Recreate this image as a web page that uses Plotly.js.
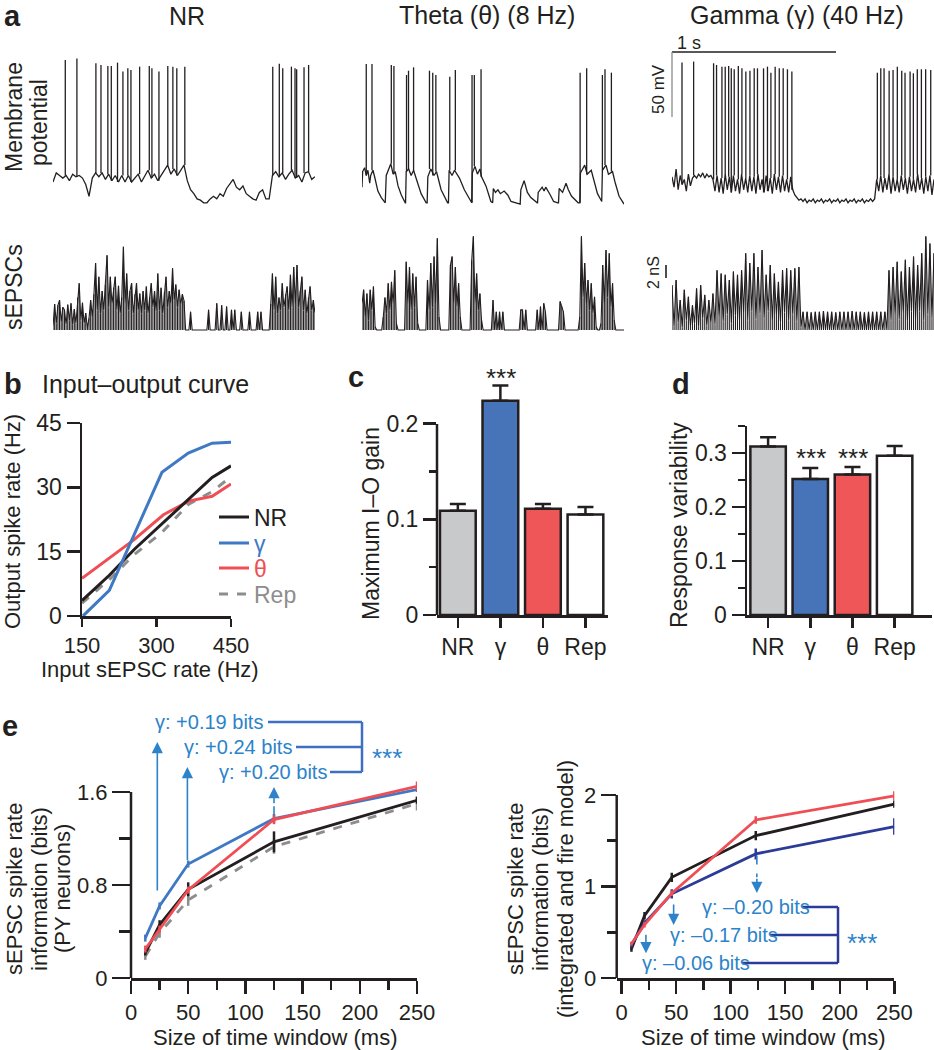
<!DOCTYPE html>
<html>
<head>
<meta charset="utf-8">
<script src="https://cdn.plot.ly/plotly-3.0.1.min.js"></script>
<style>
  html, body { margin: 0; padding: 0; background: #fff; }
  #fig { width: 934px; height: 1050px; }
</style>
</head>
<body>
<div id="fig"></div>
<script>
/* ---------- data ---------- */

// panel a: membrane potential (mV) and sEPSC conductance (nS), time in ms
const nrDt = 20;
const nrV = [-60,-53,-55,-57,-55,-59,-54,-56,-55,-57,
  -62,-71,-57,-53,-56,-53,-58,-54,-59,-55,
  -60,-55,-60,-55,-60,-57,-54,-60,-56,-51,
  -57,-54,-59,-55,-52,-47,-54,-50,-55,-51,
  -47,-59,-66,-69,-73,-74,-76,-76,-73,-71,
  -73,-69,-71,-65,-61,-58,-64,-66,-63,-69,
  -71,-73,-74,-68,-66,-73,-73,-55,-52,-56,
  -53,-58,-54,-51,-57,-55,-60,-53,-52,-58,
  -56];
const nrSpikeT = [75,146,262,293,335,356,394,427,457,476,529,588,604,647,701,732,756,805,
  1342,1382,1403,1456,1478,1488,1533,1561];
const nrSpikeV = [33.8,35,31.3,30,29.2,29.2,31.8,24.9,27.4,26.2,28.7,29.2,27.4,24.9,29.2,28.7,27.4,28.7,
  28.7,31,27.4,28.7,27.4,26.7,28.2,30];

const thetaT = [0,4,16,26,36,47,53,67,77,87,97,118,138,
  142,148,176,190,203,220,240,264,
  266,270,285,300,315,325,341,361,392,
  398,402,420,440,455,463,483,523,
  528,532,550,565,585,595,625,666,
  670,674,690,705,720,730,757,787,
  798,802,815,830,845,868,890,910,960,
  966,970,990,1010,1031,1070,
  1072,1076,1100,1112,1122,1150,1170,1195,
  1200,1204,1225,1246,1260,1280,1320,
  1330,1334,1360,1375,1400,1420,1438,1460,
  1464,1468,1490,1505,1530,1545,1570,1600];
const thetaV = [-64,-52,-49,-55,-51,-61,-55,-51,-56,-61,-67,-72,-76,
  -76,-55,-46,-54,-52,-63,-70,-76,
  -76,-52,-50,-55,-51,-55,-61,-69,-76,
  -76,-56,-50,-55,-52,-56,-66,-76,
  -76,-51,-55,-51,-55,-57,-66,-76,
  -76,-53,-48,-54,-50,-56,-63,-75,
  -76,-65,-68,-66,-69,-67,-70,-75,-77,
  -77,-66,-59,-68,-72,-76,
  -76,-68,-64,-67,-64,-70,-75,-76,
  -76,-65,-68,-61,-66,-71,-76,
  -76,-53,-47,-54,-51,-61,-69,-74,
  -75,-51,-47,-54,-52,-60,-71,-77];
const thetaSpikeT = [26,61,179,195,272,284,315,412,432,451,536,570,672,686,727,1332,1372,1468,1484,1523];
const thetaSpikeV = [30.8,30.8,30,29.2,22.3,25.6,28.2,25.6,24.1,22.3,21,26.2,22.3,22.3,26.7,24.1,27.4,22.3,26.7,24.1];

const gamDt = 12.5;
const gamV = [-56,-64,-50,-66,-55,-62,-58,-67,-54,-63,-57,
  -55,-57,-54,-56,-53,-57,-54,-56,-55,
  -58,-67,-55,-68,-57,-69,-54,-66,-56,-68,
  -55,-67,-58,-69,-54,-66,-57,-68,-55,-67,
  -56,-69,-54,-66,-58,-68,-55,-67,-57,-69,
  -54,-66,-56,-68,-55,-67,-58,-68,-56,-66,
  -70,-72,-74,-73,-75,-73,-76,-74,-75,-73,
  -76,-74,-75,-73,-76,-74,-75,-73,-76,-74,
  -75,-73,-76,-74,-75,-73,-76,-74,-75,-73,
  -76,-74,-75,-73,-76,-74,-75,-73,-75,-73,
  -58,-67,-55,-68,-57,-66,-54,-69,-56,-67,
  -58,-68,-55,-66,-57,-69,-56,-67,-58,-68,
  -54,-66,-57,-69,-56,-67,-55,-70,-58];
const gamSpikeT = [61,132,254,272,305,325,346,362,380,405,427,451,476,502,522,559,583,604,630,655,679,705,732,
  1254,1275,1295,1326,1350,1376,1403,1423,1454,1474,1498,1523,1549,1580];
const gamSpikeV = [31.8,32.6,31.3,30,28.7,28.7,29.2,27.4,26.7,29.2,27.4,24.9,25.6,27.4,27.4,27.4,28.7,24.1,28.7,27.4,27.4,26.7,24.9,
  24.1,27.4,27.4,25.6,26.2,28.7,25.6,24.1,24.9,23.6,26.7,26.7,26.7,26.2];

const sDt = 10;
const nrS = [0.5,4.0,1.0,3.8,4.6,1.2,3.5,3.1,0.8,3.9,
  1.5,4.1,0.8,3.2,1.0,5.0,7.2,1.5,4.2,1.0,
  2.6,0.3,1.8,4.6,2.0,5.5,10.3,3.0,8.2,2.5,
  6.0,3.0,7.0,11.5,3.5,8.2,4.0,6.5,8.2,3.0,
  6.8,2.5,5.0,12.8,4.0,8.7,3.0,6.0,7.2,2.5,
  5.5,7.2,3.0,5.6,2.5,6.0,3.0,6.7,2.5,5.0,
  7.2,3.5,6.0,2.8,8.7,3.0,6.5,2.5,5.8,8.2,
  3.5,6.0,4.0,9.5,4.5,7.0,3.5,6.2,4.0,5.5,
  4.5,0,0,0,2.8,0,0,0,0,0,
  0,0,0,0,0,3.1,0,0,0,0,
  4.1,0,0,3.8,0,0,3.6,0,0,3.1,
  0,3.1,0,0,0,2.8,0,0,0,0,
  2.8,0,0,0,0,2.8,0,2.8,0,0,
  0,0,0,4.0,8.7,3.0,8.2,2.5,5.0,3.0,
  7.2,3.5,5.5,6.7,3.0,8.5,3.5,9.7,4.0,10.0,
  3.5,6.0,8.2,3.0,6.2,2.5,5.0,6.7,3.0,4.6,
  2.5];
const thetaS = [4.0,6.2,2.0,5.6,1.5,6.2,3.0,6.7,0.5,0,
  0,0,0,2.0,5.0,2.5,7.2,3.0,7.4,4.0,
  9.2,1.0,0,0,0,0,0,10.5,4.0,9.7,
  3.0,8.7,3.5,8.2,1.0,0,0,0,0,0,
  7.7,3.0,10.3,3.5,11.3,4.0,14.1,2.0,0,0,
  0,0,0,0,10.0,11.3,4.0,9.7,3.5,7.2,
  2.0,0,0,0,0,0,0,10.7,14.4,4.0,
  8.7,3.0,5.6,1.5,0,0,0,0,0,0,
  4.6,0,2.8,0,2.8,0,2.8,0,0,0,
  0,0,0,0,0,0,0,3.1,3.1,0,
  3.1,0,0,0,0,0,0,3.1,0,3.6,
  0,4.1,2.8,0,0,0,0,0,0,0,
  0,4.4,3.6,2.8,0,0,0,0,0,0,
  0,0,0,2.0,14.4,5.0,10.3,4.0,7.7,3.0,
  7.2,2.5,5.1,0.5,0,0,1.0,10.0,4.0,12.3,
  5.0,11.8,3.5,7.2,1.5,0,0,0,0,0,
  0];
const gamS = [6.9,0.5,7.7,1.2,4.6,0.4,6.2,1.5,5.1,0.6,
  3.8,1.0,6.4,0.5,6.9,1.8,5.4,0.7,4.6,1.1,
  5.6,0.9,9.2,2.0,8.7,1.3,8.5,2.4,7.7,1.0,
  9.0,2.2,8.5,1.4,9.2,2.6,11.8,1.5,10.3,2.8,
  11.8,1.6,9.7,2.5,12.3,1.8,8.5,2.9,10.0,1.4,
  8.7,2.3,7.4,1.2,9.2,2.7,9.5,1.5,9.2,2.4,
  9.5,1.3,9.7,0.4,
  2.8,0,2.8,0,2.7,0,2.8,0,2.8,0,
  2.9,0,2.8,0,2.8,0,2.7,0,2.8,0,
  2.8,0,2.8,0,2.9,0,2.8,0,2.8,0,
  2.7,0,2.8,0,2.8,0,2.8,0,2.8,0,
  2.8,0,
  9.2,1.5,9.7,2.3,10.5,1.6,9.0,2.6,10.8,1.4,
  9.7,2.8,11.3,1.7,10.0,2.9,11.8,1.5,14.4,2.4,
  13.3,1.8,11.8];

// panel b: input-output curves
const ioNR = {x: [150,205,255,311,364,412,450], y: [3.6,9.5,15.5,21.5,27,32.3,35]};
const ioGamma = {x: [152,205,311,364,412,450], y: [0,6,33.5,38,40.3,40.5]};
const ioTheta = {x: [150,255,314,365,412,450], y: [8.8,17.8,23.6,26.8,27.9,30.8]};
const ioRep = {x: [150,205,255,311,364,412,450], y: [3.0,8.5,14.3,19.5,26,29,32.5]};

// panels c, d: bars
const conds = ['NR', 'γ', 'θ', 'Rep'];
const gainVals = [0.109, 0.224, 0.111, 0.105];
const gainErr = [0.007, 0.016, 0.005, 0.008];
const varVals = [0.312, 0.252, 0.260, 0.295];
const varErr = [0.017, 0.020, 0.014, 0.018];

// panel e: information vs time window
const winPY = [12.5, 25, 50, 125, 250];
const pyGamma = [0.343, 0.62, 0.98, 1.371, 1.62], pyGammaErr = [0.03,0.03,0.03,0.04,0.02];
const pyTheta = [0.249, 0.42, 0.757, 1.363, 1.649], pyThetaErr = [0.03,0.03,0.03,0.04,0.04];
const pyNR = [0.214, 0.457, 0.763, 1.171, 1.529], pyNRErr = [0.02,0.04,0.06,0.09,0.03];
const pyRep = [0.186, 0.386, 0.671, 1.129, 1.50], pyRepErr = [0.03,0.04,0.05,0.06,0.06];

const winIF = [9, 21, 46, 123, 250];
const ifNR = [0.316, 0.68, 1.10, 1.556, 1.90], ifNRErr = [0.03,0.04,0.05,0.05,0.04];
const ifTheta = [0.375, 0.582, 0.927, 1.727, 1.99], ifThetaErr = [0.02,0.03,0.03,0.04,0.05];
const ifGamma = [0.364, 0.60, 0.92, 1.356, 1.655], ifGammaErr = [0.03,0.03,0.05,0.06,0.09];

/* ---------- helpers ---------- */
const W = 934, H = 1050;
const FONT = 'Liberation Sans, Arial, Helvetica, sans-serif';
const INK = '#231f20';
const BLUE = '#3f79c4', RED = '#ef4e55', GRAY = '#8d8d8d', NAVY = '#2c3b97', TXTBLUE = '#2c83c9';
const px = v => v / W;
const py = v => 1 - v / H;
const domX = (a, b) => [px(a), px(b)];
const domY = (top, bottom) => [py(bottom), py(top)];

const steps = (vals, dt) => vals.map((_, i) => i * dt);

// spikes: vertical strokes from the nearest baseline sample up to the peak
function spikeSegs(tb, vb, st, sv) {
  const x = [], y = [];
  st.forEach((t, k) => {
    let j = 0;
    for (let i = 1; i < tb.length; i++) if (Math.abs(tb[i] - t) < Math.abs(tb[j] - t)) j = i;
    x.push(t, t, null);
    y.push(vb[j], sv[k], null);
  });
  return {x, y};
}

// sEPSC events drawn as stems from zero (under the jagged envelope)
function stems(vals, dt) {
  const x = [], y = [];
  vals.forEach((v, i) => { if (v > 0) { x.push(i * dt, i * dt, null); y.push(0, v, null); } });
  return {x, y};
}

function trace(x, y, ax, w) {
  return {x, y, type: 'scatter', mode: 'lines', line: {color: INK, width: w || 1.3},
    xaxis: 'x' + ax, yaxis: 'y' + ax, showlegend: false, hoverinfo: 'skip'};
}

function txt(text, x, y, size, o) {
  return Object.assign({text, x: px(x), y: py(y), xref: 'paper', yref: 'paper', showarrow: false,
    xanchor: 'center', yanchor: 'middle', font: {size, color: INK, family: FONT}}, o || {});
}
const blueTxt = (t, x, y) => txt(t, x, y, 20, {xanchor: 'left', font: {size: 20, color: TXTBLUE, family: FONT}});

function hline(x0, x1, y, color, w) {
  return {type: 'line', xref: 'paper', yref: 'paper', x0: px(x0), x1: px(x1), y0: py(y), y1: py(y),
    line: {color, width: w || 2.5}};
}
function vline(x, y0, y1, color, w) {
  return {type: 'line', xref: 'paper', yref: 'paper', x0: px(x), x1: px(x), y0: py(y0), y1: py(y1),
    line: {color, width: w || 2.5}};
}

const hidden = o => Object.assign({visible: false, fixedrange: true}, o);
function axis(o) {
  return Object.assign({showgrid: false, zeroline: false, ticks: 'outside', tickwidth: 2.5, tickcolor: INK,
    ticklen: 13, showline: true, linewidth: 2.5, linecolor: INK, fixedrange: true,
    tickfont: {size: 23, color: INK, family: FONT}}, o);
}

/* ---------- traces ---------- */
const data = [];
// panel a
const nrT = steps(nrV, nrDt);
data.push(trace(nrT, nrV, ''));
const nrSp = spikeSegs(nrT, nrV, nrSpikeT, nrSpikeV);
data.push(trace(nrSp.x, nrSp.y, ''));
data.push(trace(thetaT, thetaV, 2));
const thSp = spikeSegs(thetaT, thetaV, thetaSpikeT, thetaSpikeV);
data.push(trace(thSp.x, thSp.y, 2));
const gamT = steps(gamV, gamDt);
data.push(trace(gamT, gamV, 3));
const gaSp = spikeSegs(gamT, gamV, gamSpikeT, gamSpikeV);
data.push(trace(gaSp.x, gaSp.y, 3));
[[nrS, sDt, 4], [thetaS, sDt, 5], [gamS, gamDt, 6]].forEach(([vals, dt, ax]) => {
  const s = stems(vals, dt);
  data.push(trace(s.x, s.y, ax, 1.1));
  data.push(trace(steps(vals, dt), vals, ax, 1.1));
});

// panel b (one small legend per entry so the rows sit where the reference has them)
const ioLine = (d, name, color, legend, rank, dash) => ({x: d.x, y: d.y, type: 'scatter', mode: 'lines', name,
  line: {color, width: 3, dash: dash || 'solid'}, xaxis: 'x7', yaxis: 'y7', cliponaxis: false,
  legend, legendrank: rank, hoverinfo: 'skip'});
data.push(ioLine(ioRep, '<span style="color:' + GRAY + '">Rep</span>', GRAY, 'legend4', 4, 'dash'));
data.push(ioLine(ioTheta, '<span style="color:' + RED + '">θ</span>', RED, 'legend3', 3));
data.push(ioLine(ioNR, 'NR', INK, 'legend', 1));
data.push(ioLine(ioGamma, '<span style="color:' + BLUE + '">γ</span>', BLUE, 'legend2', 2));

// panels c, d
const barColors = ['#c8c9cb', '#4774b9', '#ef5658', '#ffffff'];
const bar = (vals, errs, ax) => ({type: 'bar', x: [0, 1, 2, 3], y: vals, width: 0.84,
  marker: {color: barColors, line: {color: INK, width: 2.5}},
  error_y: {type: 'data', symmetric: false, array: errs, arrayminus: [0, 0, 0, 0], color: INK, thickness: 2.5, width: 8},
  xaxis: 'x' + ax, yaxis: 'y' + ax, showlegend: false, hoverinfo: 'skip'});
data.push(bar(gainVals, gainErr, 8));
data.push(bar(varVals, varErr, 9));

// panel e
const infoLine = (x, y, e, color, ax, dash) => ({x, y, type: 'scatter', mode: 'lines',
  line: {color, width: 2.8, dash: dash || 'solid'},
  error_y: {type: 'data', array: e, color, thickness: 2.5, width: 0},
  xaxis: 'x' + ax, yaxis: 'y' + ax, showlegend: false, hoverinfo: 'skip'});
data.push(infoLine(winPY, pyRep, pyRepErr, GRAY, 10, 'dash'));
data.push(infoLine(winPY, pyNR, pyNRErr, INK, 10));
data.push(infoLine(winPY, pyGamma, pyGammaErr, BLUE, 10));
data.push(infoLine(winPY, pyTheta, pyThetaErr, RED, 10));
data.push(infoLine(winIF, ifNR, ifNRErr, INK, 11));
data.push(infoLine(winIF, ifGamma, ifGammaErr, NAVY, 11));
data.push(infoLine(winIF, ifTheta, ifThetaErr, RED, 11));

/* ---------- annotations ---------- */
const bold = (t, x, y) => txt('<b>' + t + '</b>', x, y, 29, {xanchor: 'left'});
const rot = (t, x, y, s) => txt(t, x, y, s || 22, {textangle: -90});
const arrow = (ax, x, y0, y1, color) => ({xref: 'x' + ax, yref: 'y' + ax, axref: 'x' + ax, ayref: 'y' + ax,
  x, y: y1, ax: x, ay: y0, text: '', showarrow: true, arrowhead: 2, arrowsize: 1.4, arrowwidth: 1.6,
  arrowcolor: color, standoff: 0});

const annotations = [
  bold('a', 2, 16), bold('b', 2, 384), bold('c', 346, 377), bold('d', 670, 384), bold('e', 0, 726),
  txt('NR', 187, 16, 25), txt('Theta (θ) (8 Hz)', 487, 15, 25), txt('Gamma (γ) (40 Hz)', 797, 15, 25),
  rot('Membrane', 14, 117, 23), rot('potential', 39, 123, 23), rot('sEPSCs', 14, 287, 23),
  txt('1 s', 675, 43, 18, {xanchor: 'left'}), rot('50 mV', 658, 89, 17), rot('2 nS', 653, 273, 16),
  txt('Input–output curve', 40, 384, 25, {xanchor: 'left'}),
  rot('Output spike rate (Hz)', 12, 522), txt('Input sEPSC rate (Hz)', 150, 669, 22),
  rot('Maximum I–O gain', 371, 524, 23), rot('Response variability', 679, 525, 23),
  txt('***', 501, 378, 26), txt('***', 811, 458, 26), txt('***', 853, 458, 26),
  rot('sEPSC spike rate', 14, 889), rot('information (bits)', 39, 889), rot('(PY neurons)', 62, 889),
  txt('Size of time window (ms)', 275, 1037, 22),
  rot('sEPSC spike rate', 515, 889), rot('information (bits)', 540, 889), rot('(integrated and fire model)', 565, 889),
  txt('Size of time window (ms)', 763, 1037, 22),
  blueTxt('γ: +0.19 bits', 153, 722), blueTxt('γ: +0.24 bits', 182, 747), blueTxt('γ: +0.20 bits', 217, 772),
  txt('***', 387, 758, 26, {font: {size: 26, color: TXTBLUE, family: FONT}}),
  blueTxt('γ: –0.20 bits', 700, 907), blueTxt('γ: –0.17 bits', 668, 935), blueTxt('γ: –0.06 bits', 640, 963),
  txt('***', 862, 943, 26, {font: {size: 26, color: TXTBLUE, family: FONT}}),
  arrow(10, 23, 0.74, 2.03, TXTBLUE), arrow(10, 49.3, 1.0, 1.815, TXTBLUE), arrow(10, 125, 1.49, 1.643, TXTBLUE),
  arrow(11, 22.3, 0.49, 0.27, TXTBLUE), arrow(11, 47.7, 0.82, 0.58, TXTBLUE), arrow(11, 124, 1.10, 0.93, TXTBLUE)
];

/* ---------- shapes ---------- */
const shapes = [
  // scale bars
  hline(672, 836, 52, INK, 1.3), vline(672, 52, 117, '#8a8a8a', 1.3), vline(666, 265, 278, INK, 1.6),
  // axis lines that stop at the top tick
  vline(437, 615, 424, INK), vline(131, 978, 792, INK), vline(616.7, 978, 795, INK),
  // brackets, panel e
  hline(268, 362, 722, '#3f6fc0'), hline(296, 362, 747, '#3f6fc0'), hline(330, 362, 772, '#3f6fc0'),
  vline(362, 722, 772, '#3f6fc0'),
  hline(802, 838, 907, NAVY), hline(770, 838, 935, NAVY), hline(742, 838, 963, NAVY), vline(838, 907, 963, NAVY),
  {type: 'line', xref: 'x10', yref: 'y10', x0: 125, x1: 125, y0: 1.40, y1: 1.49, line: {color: TXTBLUE, width: 1.6, dash: 'dash'}},
  {type: 'line', xref: 'x11', yref: 'y11', x0: 124, x1: 124, y0: 1.34, y1: 1.10, line: {color: TXTBLUE, width: 1.6, dash: 'dash'}}
];

/* ---------- layout ---------- */
const memY = {domain: domY(40, 215), range: [-85.4, 49.2]};
const sY = {domain: domY(225, 332), range: [-0.31, 16.15]};
const leg = y => ({x: px(214), y: py(y), xanchor: 'left', yanchor: 'middle', bgcolor: 'rgba(0,0,0,0)',
  borderwidth: 0, font: {size: 23, color: INK, family: FONT}, itemwidth: 30});
const layout = {
  width: W, height: H, margin: {l: 0, r: 0, t: 0, b: 0},
  paper_bgcolor: '#fff', plot_bgcolor: 'rgba(0,0,0,0)',
  font: {family: FONT, color: INK, size: 22},
  showlegend: true,
  legend: leg(517), legend2: leg(543), legend3: leg(568), legend4: leg(594),
  xaxis: hidden({domain: domX(53, 315), range: [0, 1600], anchor: 'y'}),
  yaxis: hidden(Object.assign({anchor: 'x'}, memY)),
  xaxis2: hidden({domain: domX(362, 624), range: [0, 1600], anchor: 'y2'}),
  yaxis2: hidden(Object.assign({anchor: 'x2'}, memY)),
  xaxis3: hidden({domain: domX(672, 934), range: [0, 1600], anchor: 'y3'}),
  yaxis3: hidden(Object.assign({anchor: 'x3'}, memY)),
  xaxis4: hidden({domain: domX(53, 315), range: [0, 1600], anchor: 'y4'}),
  yaxis4: hidden(Object.assign({anchor: 'x4'}, sY)),
  xaxis5: hidden({domain: domX(362, 624), range: [0, 1600], anchor: 'y5'}),
  yaxis5: hidden(Object.assign({anchor: 'x5'}, sY)),
  xaxis6: hidden({domain: domX(672, 934), range: [0, 1600], anchor: 'y6'}),
  yaxis6: hidden(Object.assign({anchor: 'x6'}, sY)),
  // b
  xaxis7: axis({domain: domX(82, 231), range: [150, 450], anchor: 'y7', tickvals: [150, 300, 450], ticklen: 8,
    tickfont: {size: 22, color: INK, family: FONT}}),
  yaxis7: axis({domain: domY(423, 616), range: [0, 45], anchor: 'x7', tickvals: [0, 15, 30, 45]}),
  // c
  xaxis8: axis({domain: domX(437, 608), range: [-0.49, 3.53], anchor: 'y8', tickvals: [0, 1, 2, 3], ticktext: conds,
    ticklen: 10}),
  yaxis8: axis({domain: domY(370, 615), range: [0, 0.2561], anchor: 'x8', showline: false,
    tickvals: [0, 0.1, 0.2], ticktext: ['0', '0.1', '0.2'],
    minor: {tickvals: [0.05, 0.15], ticklen: 7, tickwidth: 2.5, tickcolor: INK}}),
  // d
  xaxis9: axis({domain: domX(747, 932), range: [-0.5, 3.886], anchor: 'y9', tickvals: [0, 1, 2, 3], ticktext: conds,
    ticklen: 10}),
  yaxis9: axis({domain: domY(426, 615), range: [0, 0.35], anchor: 'x9',
    tickvals: [0, 0.1, 0.2, 0.3], ticktext: ['0', '0.1', '0.2', '0.3'],
    minor: {tickvals: [0.05, 0.15, 0.25, 0.35], ticklen: 7, tickwidth: 2.5, tickcolor: INK}}),
  // e left
  xaxis10: axis({domain: domX(131, 417), range: [0, 250], anchor: 'y10', tickvals: [0, 50, 100, 150, 200, 250], ticklen: 13,
    tickfont: {size: 22, color: INK, family: FONT},
    minor: {tickvals: [25, 75, 125, 175, 225], ticklen: 9, tickwidth: 2.5, tickcolor: INK}}),
  yaxis10: axis({domain: domY(700, 978), range: [0, 2.391], anchor: 'x10', showline: false, ticklen: 18,
    tickvals: [0, 0.8, 1.6], ticktext: ['0', '0.8', '1.6'], tickfont: {size: 22, color: INK, family: FONT},
    minor: {tickvals: [0.4, 1.2], ticklen: 11, tickwidth: 2.5, tickcolor: INK}}),
  // e right
  xaxis11: axis({domain: domX(616.7, 894.3), range: [-4.5, 250], anchor: 'y11', tickvals: [0, 50, 100, 150, 200, 250], ticklen: 13,
    tickfont: {size: 22, color: INK, family: FONT},
    minor: {tickvals: [25, 75, 125, 175, 225], ticklen: 9, tickwidth: 2.5, tickcolor: INK}}),
  yaxis11: axis({domain: domY(700, 978), range: [0, 3.038], anchor: 'x11', showline: false, ticklen: 15,
    tickvals: [0, 1, 2], tickfont: {size: 22, color: INK, family: FONT},
    minor: {tickvals: [0.5, 1.5], ticklen: 9, tickwidth: 2.5, tickcolor: INK}}),
  annotations,
  shapes
};

Plotly.newPlot('fig', data, layout, {displayModeBar: false, staticPlot: true});
</script>
</body>
</html>
